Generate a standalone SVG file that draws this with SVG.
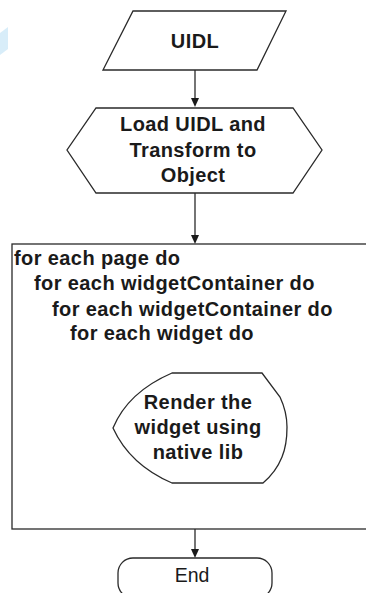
<svg xmlns="http://www.w3.org/2000/svg" width="366" height="593" viewBox="0 0 366 593">
<style>
.shape{fill:#fff;stroke:#2a2a2a;stroke-width:1.3}
.b{font-family:"Liberation Sans",Arial,sans-serif;font-weight:bold;font-size:20px;letter-spacing:0.4px;fill:#1a1a1a}
.m{text-anchor:middle}
.r{font-family:"Liberation Sans",Arial,sans-serif;font-size:19.5px;fill:#1a1a1a}
.conn{stroke:#2a2a2a;stroke-width:1.3;fill:none}
.ah{fill:#1a1a1a}
</style>
<rect width="366" height="593" fill="#fff"/>
<polygon points="0,33 8,27 8,49 0,55" fill="#d8edf9"/>
<g id="connectors">
<line class="conn" x1="195" y1="70" x2="195" y2="99"/>
<path class="ah" d="M191,98 L199,98 L195,107 Z"/>
<line class="conn" x1="195" y1="193" x2="195" y2="236"/>
<path class="ah" d="M191,235 L199,235 L195,244 Z"/>
<line class="conn" x1="195" y1="529" x2="195" y2="550"/>
<path class="ah" d="M191,549 L199,549 L195,558 Z"/>
</g>
<g id="uidl">
<polygon class="shape" points="133,11 286,11 257,70 103,70"/>
<text class="b m" x="195" y="48">UIDL</text>
</g>
<g id="load">
<polygon class="shape" points="96,108 293,108 322,150 293,193 96,193 67,150"/>
<text class="b m" x="193" y="131">Load UIDL and</text>
<text class="b m" x="193" y="157">Transform to</text>
<text class="b m" x="193" y="182">Object</text>
</g>
<g id="loop">
<rect class="shape" x="12" y="244" width="360" height="285"/>
<text class="b" x="14" y="265">for each page do</text>
<text class="b" x="34" y="290">for each widgetContainer do</text>
<text class="b" x="52" y="316">for each widgetContainer do</text>
<text class="b" x="70" y="340">for each widget do</text>
</g>
<g id="render">
<path class="shape" d="M172,373 L262,373 L280,397 Q287,412 287,427 Q287,445 282,457 Q276,472 263,483 L172,483 Q130,465 113,428 Q128,392 172,373 Z"/>
<text class="b m" x="198" y="409">Render the</text>
<text class="b m" x="198" y="434">widget using</text>
<text class="b m" x="198" y="459">native lib</text>
</g>
<g id="end">
<rect class="shape" x="118" y="558" width="154" height="40" rx="15" ry="15"/>
<text class="r m" x="192" y="582">End</text>
</g>
</svg>
